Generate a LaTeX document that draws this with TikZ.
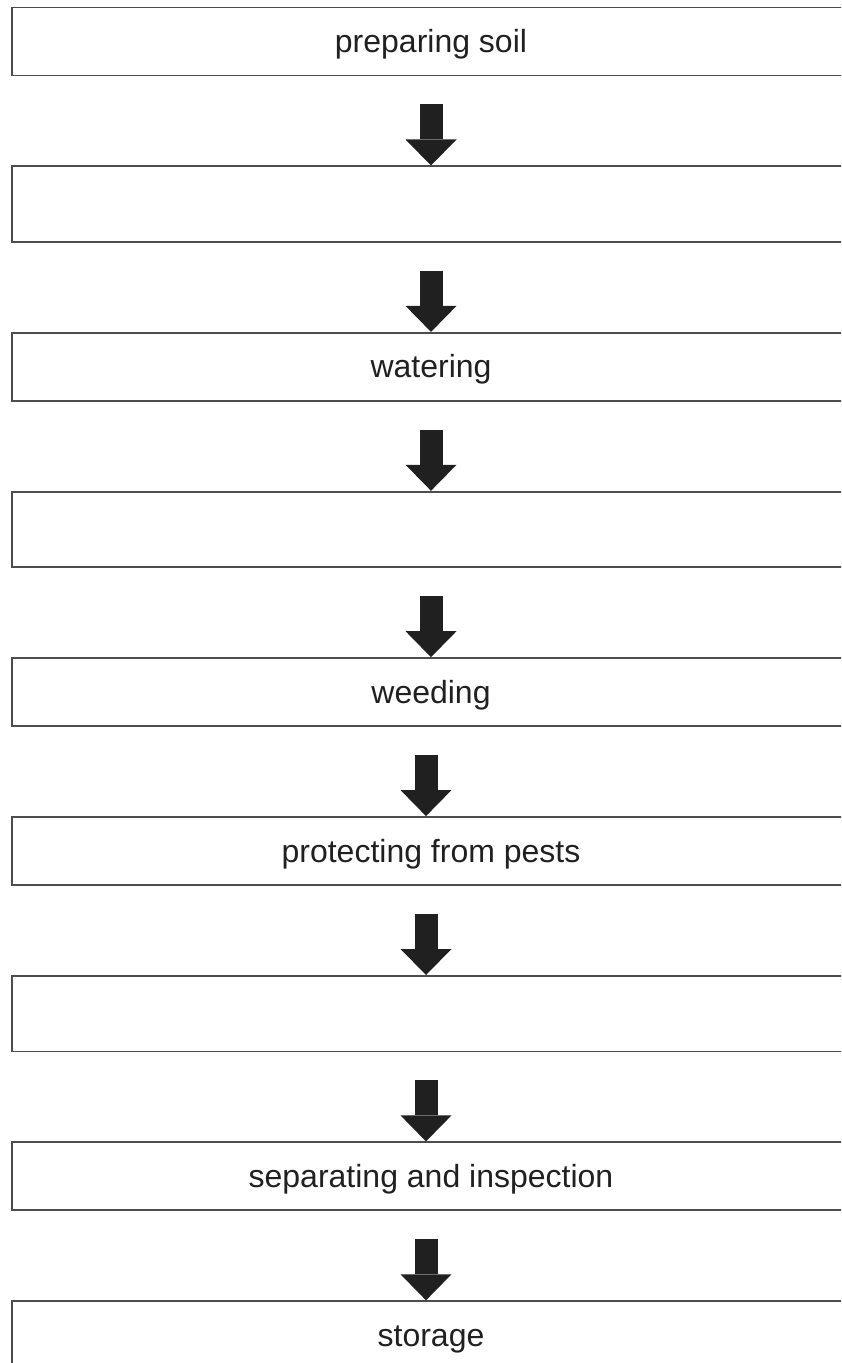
\documentclass[tikz,border=0pt]{standalone}
\usepackage{fontspec}
\setmainfont{Liberation Sans}
\usepackage{tikz}
\usetikzlibrary{positioning}
\usetikzlibrary{arrows.meta}
\definecolor{ududud}{rgb}{0.30196078431372547,0.30196078431372547,0.30196078431372547}
\definecolor{sqsqsq}{rgb}{0.12549019607843137,0.12549019607843137,0.12549019607843137}
\tikzstyle{every node}=[font=\fontsize{16}{19}\selectfont]

\begin{document}
\begin{tikzpicture}[line join=miter,x=0.5pt,y=-0.5pt,node distance=44.55pt,
        stepbox/.style={draw=ududud,line width=0.9pt,minimum width=419pt,minimum height=34pt,inner sep=0pt,text=sqsqsq,text height=14pt,text depth=3pt},
        blankbox/.style={stepbox,minimum height=37.75pt},
        flow/.style={draw=sqsqsq,line width=11.5pt,line cap=butt,shorten <=14pt,-{Triangle[width=25.5pt,length=13pt,line width=0pt]}}]
            \useasboundingbox (0,0) rectangle (841,1363);
            \clip (0,0) rectangle (841,1363);
            \node[stepbox] (soil) at (431,41.5) {preparing soil};
            \node[blankbox,below=of soil] (blankone) {};
            \node[stepbox,below=of blankone] (water) {watering};
            \node[blankbox,below=of water] (blanktwo) {};
            \node[stepbox,below=of blanktwo] (weed) {weeding};
            \node[stepbox,below=of weed] (pests) {protecting from pests};
            \node[blankbox,below=of pests] (blankthree) {};
            \node[stepbox,below=of blankthree] (sort) {separating and inspection};
            \node[stepbox,below=of sort] (store) {storage};
            \draw [flow] (soil.south) -- (blankone.north);
            \draw [flow] (blankone.south) -- (water.north);
            \draw [flow] (water.south) -- (blanktwo.north);
            \draw [flow] (blanktwo.south) -- (weed.north);
            \draw [flow] ([xshift=-2.5pt]weed.south) -- ([xshift=-2.5pt]pests.north);
            \draw [flow] ([xshift=-2.5pt]pests.south) -- ([xshift=-2.5pt]blankthree.north);
            \draw [flow] ([xshift=-2.5pt]blankthree.south) -- ([xshift=-2.5pt]sort.north);
            \draw [flow] ([xshift=-2.5pt]sort.south) -- ([xshift=-2.5pt]store.north);
        \end{tikzpicture}
\end{document}
